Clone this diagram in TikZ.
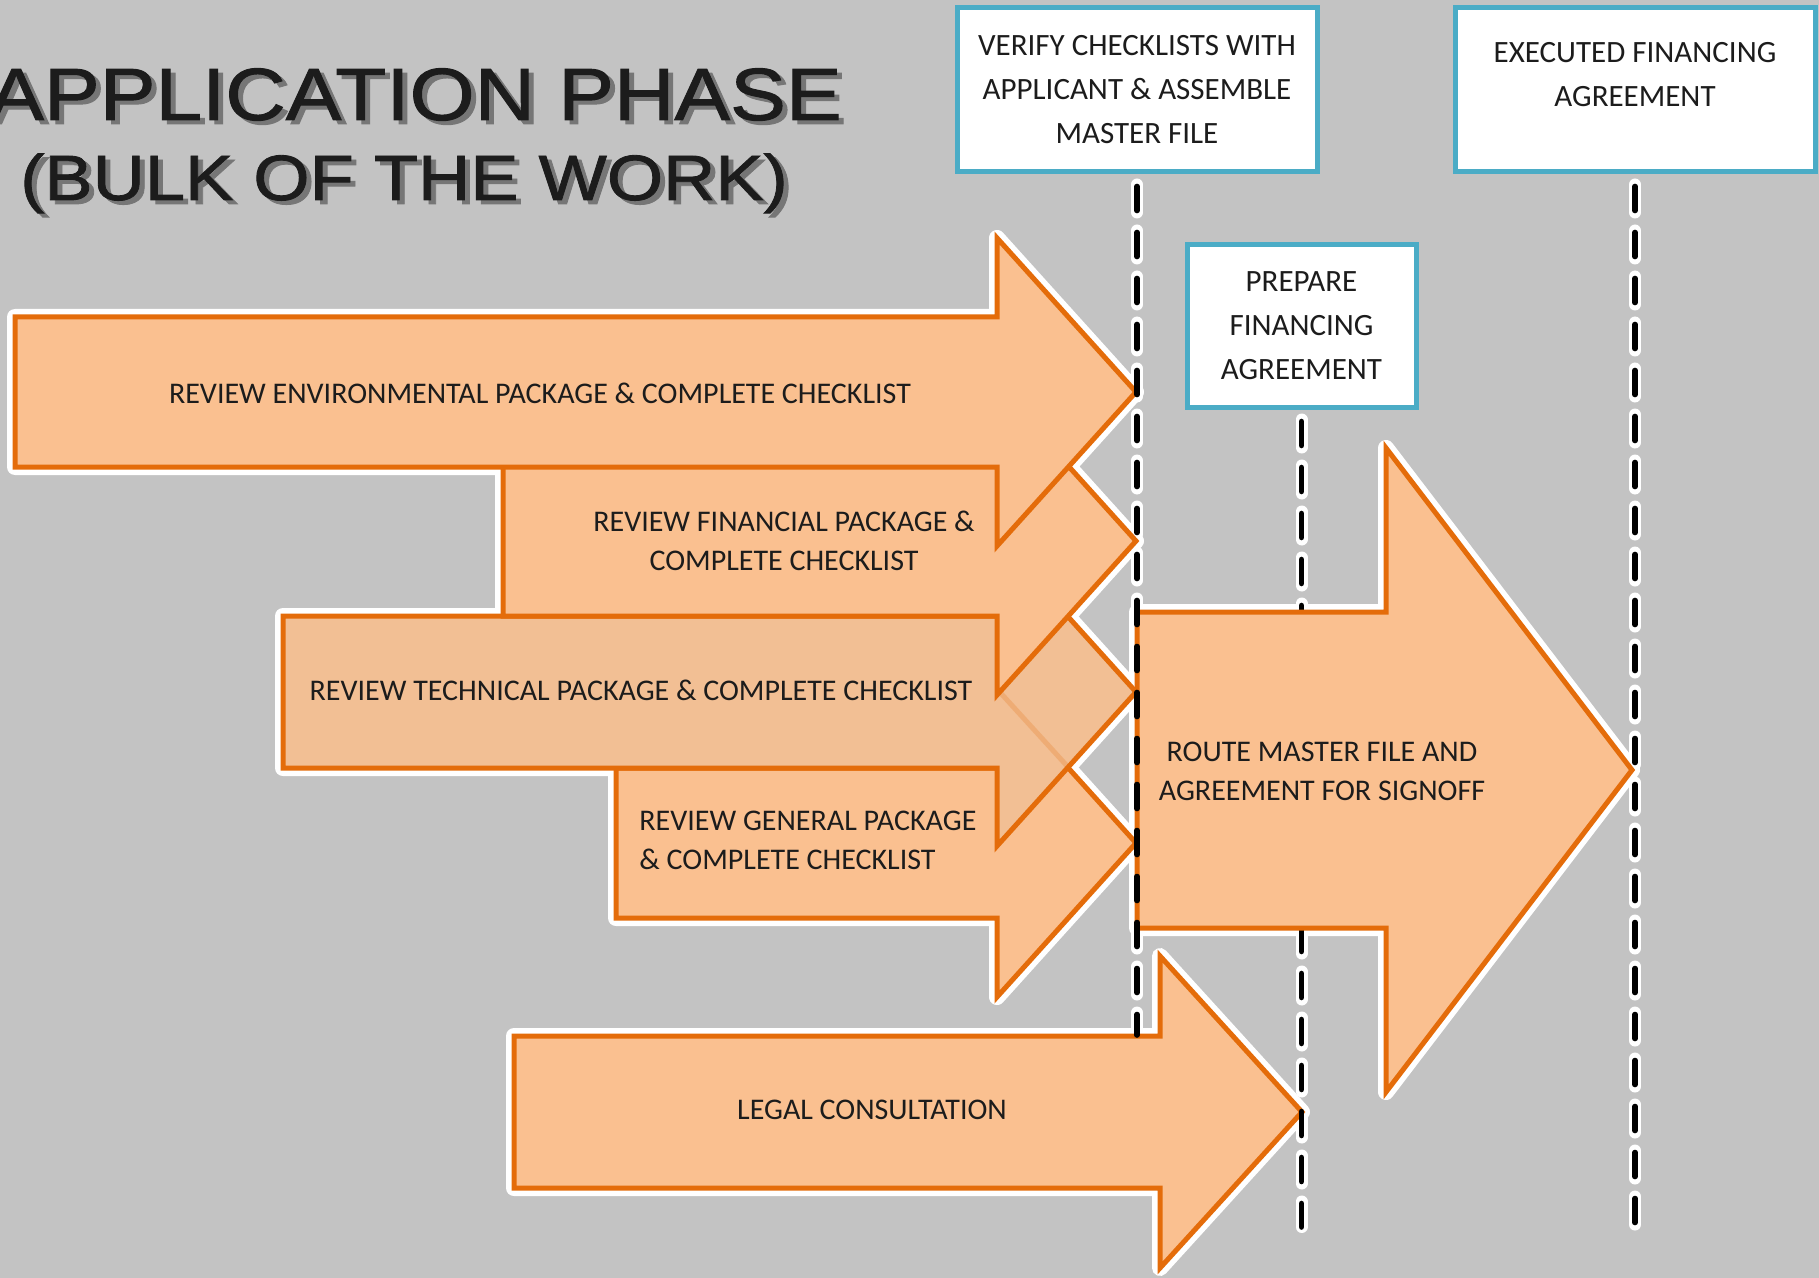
\documentclass[tikz,border=0pt]{standalone}
\usepackage{fontspec}
\setmainfont{Carlito}
\newfontfamily\titlefont[FakeStretch=1.13,FakeBold=1.3]{Liberation Sans}
\definecolor{bggray}{RGB}{195,195,195}
\definecolor{afill}{RGB}{250,192,144}
\definecolor{afilltech}{RGB}{242,191,148}
\definecolor{aborder}{RGB}{228,108,10}
\definecolor{teal5}{RGB}{75,172,198}
\definecolor{txt}{RGB}{28,28,28}
\definecolor{shadowgray}{RGB}{118,118,118}
\newcommand{\arrowshape}[7]{\path[#1] ({#2},{#3-#6}) -- ({#4},{#3-#6}) -- ({#4},{#3-#7}) -- ({#5},{#3}) -- ({#4},{#3+#7}) -- ({#4},{#3+#6}) -- ({#2},{#3+#6}) -- cycle;}
\begin{document}
\begin{tikzpicture}[x=0.5pt,y=-0.5pt,
  box/.style={draw=teal5, line width=2.5pt, fill=white, align=center, inner sep=0pt,
    font=\fontsize{15.5}{22}\selectfont, text=txt},
  atext/.style={align=center, inner sep=0pt, font=\fontsize{15}{19.5}\selectfont, text=txt},
  ttl/.style={inner sep=0pt, anchor=base, text=txt},
  ttlshadow/.style={inner sep=0pt, anchor=base, text=shadowgray},
  halo/.style={draw=white, line width=8pt, line join=round},
  arrowbody/.style={draw=aborder, fill=afill, line width=2.5pt, line join=miter},
  faintedge/.style={draw=aborder, draw opacity=0.22, line width=2.5pt},
  dashwhite/.style={draw=white, line width=6pt, line cap=round, dash pattern=on 14pt off 9pt},
  dashblack/.style={draw=black, line width=2.8pt, line cap=round, dash pattern=on 12pt off 11pt, dash phase=-1pt}
]
\useasboundingbox (0,0) rectangle (1819,1278);
\fill[bggray] (0,0) rectangle (1819,1278);

% title
\node[ttlshadow, font=\titlefont\fontsize{37}{40}\selectfont] (t1s) at (420,124) {APPLICATION PHASE};
\node[ttl, font=\titlefont\fontsize{37}{40}\selectfont] (t1) at (415,120) {APPLICATION PHASE};
\node[ttlshadow, font=\titlefont\fontsize{32}{40}\selectfont] (t2s) at (409,204) {(BULK OF THE WORK)};
\node[ttl, font=\titlefont\fontsize{32}{40}\selectfont] (t2) at (404,200) {(BULK OF THE WORK)};

% boxes
\node[box, minimum width=180pt, minimum height=82pt] (verify) at (1137,90)
  {VERIFY CHECKLISTS WITH\\APPLICANT \& ASSEMBLE\\MASTER FILE};
\node[box, minimum width=180pt, minimum height=82pt] (executed) at (1635,90) {};
\node[atext, font=\fontsize{15.5}{22}\selectfont] (executedtxt) at (1635,75) {EXECUTED FINANCING\\AGREEMENT};
\node[box, minimum width=114.5pt, minimum height=81pt] (prepare) at (1301.5,326)
  {PREPARE\\FINANCING\\AGREEMENT};

% line ends
\coordinate (aEnd) at (1137,1035);
\coordinate (bEnd) at (1301.5,1227);
\coordinate (cEnd) at (1635,1227);
\coordinate (g4a) at (997,689);
\coordinate (g4b) at (1068,767);

% white dash outlines
\draw[dashwhite] ([yshift=-5pt]verify.south) -- (aEnd);
\draw[dashwhite] ([yshift=-5pt]prepare.south) -- (bEnd);
\draw[dashwhite] ([yshift=-5pt]executed.south) -- (cEnd);

% halos
\arrowshape{halo}{616}{843}{997}{1136}{75}{154}
\arrowshape{halo}{283}{692}{997}{1136}{76}{154}
\arrowshape{halo}{503}{541}{997}{1136}{75}{154}
\arrowshape{halo}{15}{392}{997}{1136}{75}{154}
\arrowshape{halo}{514}{1112}{1160}{1302}{76}{156}
\arrowshape{halo}{1137}{770}{1386}{1632}{158}{322}

% review arrows, back to front
\arrowshape{arrowbody}{616}{843}{997}{1136}{75}{154}
\arrowshape{arrowbody, fill=afilltech}{283}{692}{997}{1136}{76}{154}
\draw[faintedge] (g4a) -- (g4b);
\arrowshape{arrowbody}{503}{541}{997}{1136}{75}{154}
\arrowshape{arrowbody}{15}{392}{997}{1136}{75}{154}
\arrowshape{arrowbody}{514}{1112}{1160}{1302}{76}{156}

\draw[dashblack] ([yshift=-5pt]prepare.south) -- (bEnd);

\arrowshape{arrowbody}{1137}{770}{1386}{1632}{158}{322}

\draw[dashblack] ([yshift=-5pt]verify.south) -- (aEnd);
\draw[dashblack] ([yshift=-5pt]executed.south) -- (cEnd);

% arrow texts
\node[atext] (envtxt) at (540,393) {REVIEW ENVIRONMENTAL PACKAGE \& COMPLETE CHECKLIST};
\node[atext] (fintxt) at (784,541) {REVIEW FINANCIAL PACKAGE \&\\COMPLETE CHECKLIST};
\node[atext] (techtxt) at (641,690) {REVIEW TECHNICAL PACKAGE \& COMPLETE CHECKLIST};
\node[atext, align=left, anchor=west] (gentxt) at (639,840) {REVIEW GENERAL PACKAGE\\\& COMPLETE CHECKLIST};
\node[atext] (routetxt) at (1322,771) {ROUTE MASTER FILE AND\\AGREEMENT FOR SIGNOFF};
\node[atext] (legaltxt) at (872,1110) {LEGAL CONSULTATION};
\end{tikzpicture}
\end{document}
